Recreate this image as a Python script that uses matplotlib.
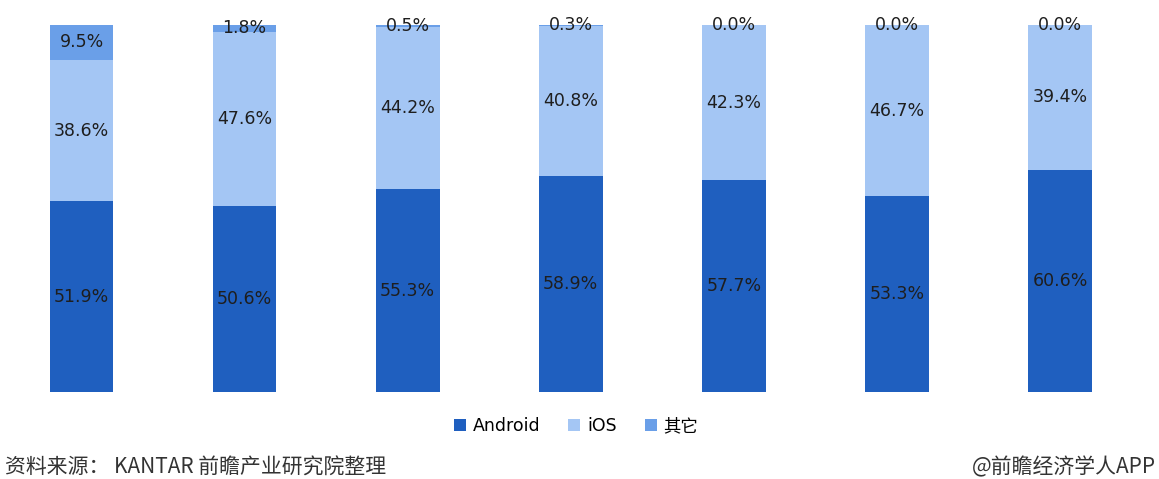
import numpy as np
import matplotlib.pyplot as plt

plt.rcParams['font.family'] = ['DejaVu Sans', 'Noto Sans CJK SC']

# Market share per period (%), 100% stacked
android = [51.9, 50.6, 55.3, 58.9, 57.7, 53.3, 60.6]
ios = [38.6, 47.6, 44.2, 40.8, 42.3, 46.7, 39.4]
other = [9.5, 1.8, 0.5, 0.3, 0.0, 0.0, 0.0]
series_names = ['Android', 'iOS', '其它']
colors = ['#1f5fbf', '#a4c6f4', '#6a9fe8']

fig = plt.figure(figsize=(11.59, 4.79), dpi=100)
ax = fig.add_axes([0.0, 0.1816, 0.985, 0.7664])

x = np.arange(len(android))
width = 0.39
bottom = np.zeros(len(x))
handles = []
for vals, c, name in zip([android, ios, other], colors, series_names):
    vals = np.array(vals)
    b = ax.bar(x, vals, width, bottom=bottom, color=c, label=name)
    handles.append(b)
    for xi, v, bt in zip(x, vals, bottom):
        ax.text(xi, bt + v / 2, f'{v:.1f}%', ha='center', va='center',
                fontsize=12.5, color='#1e1e1e')
    bottom += vals

ax.set_xlim(-0.5, 6.5)
ax.set_ylim(0, 100)
ax.axis('off')

fig.legend(handles=handles, labels=series_names, loc='center', bbox_to_anchor=(0.497, 0.11),
           ncol=3, frameon=False, handlelength=0.7, handleheight=0.7,
           handletextpad=0.4, columnspacing=1.6,
           prop={'family': ['DejaVu Sans', 'Noto Sans CJK SC'], 'size': 12.5})

fig.text(0.004, 0.024, '资料来源： KANTAR 前瞻产业研究院整理', fontsize=15, color='#333333',
         family=['Noto Sans CJK SC', 'DejaVu Sans'], ha='left', va='center')
fig.text(0.997, 0.024, '@前瞻经济学人APP', fontsize=15, color='#333333',
         family=['Noto Sans CJK SC', 'DejaVu Sans'], ha='right', va='center')

fig.savefig('out.png', dpi=100)
